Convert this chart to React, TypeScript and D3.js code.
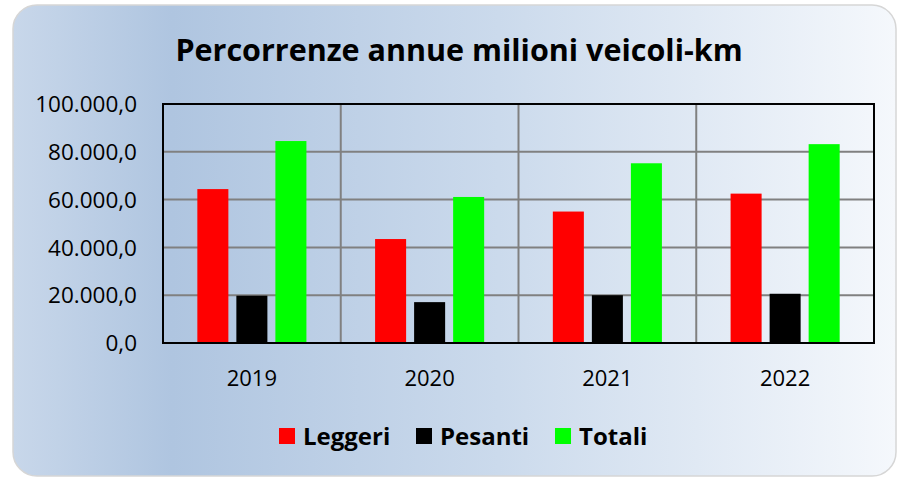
import React from "react";
import * as d3 from "d3";

const years = ["2019", "2020", "2021", "2022"];
const seriesNames = ["Leggeri", "Pesanti", "Totali"];
const leggeri = [64400, 43500, 55000, 62500];
const pesanti = [19800, 17100, 20000, 20600];
const totali = [84500, 61100, 75200, 83200];
const yTicks = [0, 20000, 40000, 60000, 80000, 100000];
const colors = ["#ff0000", "#000000", "#00ff00"];

const W = 906;
const H = 478;
const margin = { top: 104, right: 32, bottom: 135, left: 163 };
const font = "'Open Sans', sans-serif";

const itFormat = d3
  .formatLocale({ decimal: ",", thousands: ".", grouping: [3], currency: ["€", ""] })
  .format(",.1f");

const App = () => {
  const series = [leggeri, pesanti, totali];

  const x = d3
    .scaleBand()
    .domain(years)
    .range([margin.left, W - margin.right])
    .padding(0);

  const xInner = d3
    .scaleBand()
    .domain(seriesNames)
    .range([0, x.bandwidth()])
    .paddingInner(0.205)
    .paddingOuter(0.88);

  const y = d3
    .scaleLinear()
    .domain([0, 100000])
    .range([H - margin.bottom, margin.top]);

  const left = margin.left;
  const right = W - margin.right;

  return (
    <svg
      width={W}
      height={H}
      style={{ position: "absolute", left: 0, top: 0 }}
      fontFamily={font}
    >
      <defs>
        <linearGradient id="bg" x1="0" y1="0" x2="1" y2="0">
          <stop offset="0%" stopColor="#c8d7ea" />
          <stop offset="18%" stopColor="#afc5e0" />
          <stop offset="55%" stopColor="#cbdaec" />
          <stop offset="100%" stopColor="#f5f8fc" />
        </linearGradient>
      </defs>
      <rect x={13} y={5} width={883} height={471} rx={24} fill="url(#bg)" stroke="#d6d6d6" strokeWidth={1.5} />

      <text x={459} y={61} textAnchor="middle" fontSize={30.5} fontWeight="bold" fill="#000">
        Percorrenze annue milioni veicoli-km
      </text>

      {/* griglia */}
      {yTicks.map((t) => (
        <line key={t} x1={left} x2={right} y1={y(t)} y2={y(t)} stroke="#808080" strokeWidth={2} />
      ))}
      {years.slice(1).map((yr) => (
        <line key={yr} x1={x(yr)} x2={x(yr)} y1={y(100000)} y2={y(0)} stroke="#808080" strokeWidth={2} />
      ))}

      {/* barre */}
      {years.map((yr, i) =>
        series.map((s, j) => (
          <rect
            key={yr + j}
            x={(x(yr) ?? 0) + (xInner(seriesNames[j]) ?? 0)}
            y={y(s[i])}
            width={xInner.bandwidth()}
            height={y(0) - y(s[i])}
            fill={colors[j]}
          />
        ))
      )}

      <rect
        x={left}
        y={y(100000)}
        width={right - left}
        height={y(0) - y(100000)}
        fill="none"
        stroke="#000"
        strokeWidth={2}
      />

      {yTicks.map((t) => (
        <text key={t} x={137} y={y(t)} dy="0.36em" textAnchor="end" fontSize={22.5} fill="#000">
          {itFormat(t)}
        </text>
      ))}
      {years.map((yr) => (
        <text
          key={yr}
          x={(x(yr) ?? 0) + x.bandwidth() / 2}
          y={386}
          textAnchor="middle"
          fontSize={22}
          fill="#000"
        >
          {yr}
        </text>
      ))}

      {/* legenda */}
      {seriesNames.map((n, j) => {
        const lx = [279, 416, 555][j];
        return (
          <g key={n}>
            <rect x={lx} y={428} width={16} height={16} fill={colors[j]} />
            <text x={lx + 24} y={445} fontSize={24} fontWeight="bold" fill="#000">
              {n}
            </text>
          </g>
        );
      })}
    </svg>
  );
};

export default App;
